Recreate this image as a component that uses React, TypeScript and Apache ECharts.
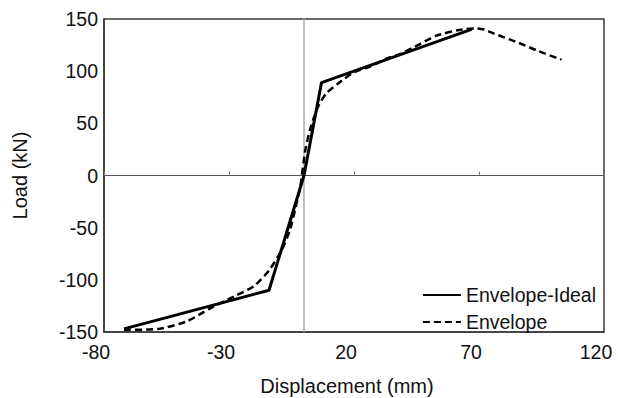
import React, { useEffect, useRef } from "react";
import * as echarts from "echarts";

const xTicks = [-80, -30, 20, 70, 120];
const yTicks = [-150, -100, -50, 0, 50, 100, 150];

const idealSeries: [number, number][] = [
  [-72, -147],
  [-14, -110],
  [0, 0],
  [7, 89],
  [67, 140],
];

const envelopeSeries: [number, number][] = [
  [-72, -148],
  [-58, -147],
  [-47, -140],
  [-38, -128],
  [-28, -116],
  [-20, -106],
  [-14, -91],
  [-9, -72],
  [-5.6, -52],
  [-3, -27],
  [-1.5, -11],
  [0.5, 24],
  [2.4, 44],
  [5.6, 66],
  [9, 79],
  [13.5, 88],
  [20, 99],
  [27, 105],
  [33, 112],
  [38, 116],
  [44, 123],
  [53, 134],
  [62, 139.5],
  [69, 141],
  [72, 140],
  [76, 136],
  [86, 127],
  [94, 119],
  [103, 111],
];

const FONT = "'Liberation Sans', Arial, sans-serif";
const FS = 19.5;
const NFS = 20;

export default function App() {
  const ref = useRef<HTMLDivElement>(null);
  useEffect(() => {
    if (!ref.current) return;
    const chart = echarts.init(ref.current, undefined, { renderer: "svg" });
    const xMin = xTicks[0];
    const xMax = xTicks[xTicks.length - 1];
    const yMin = yTicks[0];
    const yMax = yTicks[yTicks.length - 1];
    chart.setOption({
      animation: false,
      backgroundColor: "#fff",
      textStyle: { fontFamily: FONT },
      grid: {
        left: 104,
        right: 14,
        top: 19,
        bottom: 66,
        containLabel: false,
        outerBoundsMode: "none",
        show: true,
        borderColor: "#3a3a3a",
        borderWidth: 1.5,
      },
      legend: {
        orient: "vertical",
        right: 22,
        top: 285,
        padding: 0,
        itemWidth: 38,
        itemHeight: 17,
        itemGap: 7,
        itemStyle: { color: "rgba(0,0,0,0)", borderColor: "rgba(0,0,0,0)", borderWidth: 0 },
        textStyle: { fontSize: FS, color: "#111", fontFamily: FONT, lineHeight: 17 },
        data: ["Envelope-Ideal", "Envelope"],
      },
      xAxis: [
        {
          type: "value",
          position: "bottom",
          min: xMin,
          max: xMax,
          interval: 50,
          splitLine: { show: false },
          axisLine: { show: true, onZero: false, lineStyle: { color: "#3a3a3a", width: 1.5 } },
          axisTick: { show: false },
          axisLabel: {
            fontSize: FS,
            color: "#111",
            margin: 11,
            lineHeight: 17,
            fontFamily: FONT,
            padding: [0, 16, 0, 0],
          },
          name: "Displacement (mm)",
          nameLocation: "middle",
          nameGap: 44,
          nameTextStyle: { fontSize: NFS, color: "#111", fontFamily: FONT, padding: [0, 14, 0, 0] },
        },
        {
          type: "value",
          position: "top",
          min: xMin,
          max: xMax,
          interval: 50,
          splitLine: { show: false },
          axisLine: { show: true, onZero: true, lineStyle: { color: "#555", width: 1.2 } },
          axisTick: { show: true, inside: false, length: 4, lineStyle: { color: "#777" } },
          axisLabel: { show: false },
        },
      ],
      yAxis: {
        type: "value",
        min: yMin,
        max: yMax,
        interval: 50,
        splitLine: { show: false },
        axisLine: { show: true, onZero: false, lineStyle: { color: "#3a3a3a", width: 1.5 } },
        axisTick: { show: false },
        axisLabel: { fontSize: FS, color: "#111", margin: 6, lineHeight: 15, fontFamily: FONT },
        name: "Load (kN)",
        nameLocation: "middle",
        nameGap: 74,
        nameRotate: 90,
        nameTextStyle: { fontSize: NFS, color: "#111", fontFamily: FONT },
      },
      series: [
        {
          name: "Envelope-Ideal",
          type: "line",
          xAxisIndex: 0,
          data: idealSeries,
          showSymbol: false,
          symbol: "none",
          lineStyle: { color: "#000", width: 3 },
          itemStyle: { color: "rgba(0,0,0,0)" },
          z: 3,
          markLine: {
            silent: true,
            symbol: "none",
            label: { show: false },
            lineStyle: { color: "#aaa", width: 1.5, type: "solid" },
            data: [{ xAxis: 0 }],
            z: 1,
          },
        },
        {
          name: "Envelope",
          type: "line",
          xAxisIndex: 0,
          data: envelopeSeries,
          showSymbol: false,
          symbol: "none",
          smooth: 0.2,
          lineStyle: { color: "#000", width: 2.5, type: [7, 4] },
          itemStyle: { color: "rgba(0,0,0,0)" },
          z: 4,
        },
      ],
    });
    return () => chart.dispose();
  }, []);
  return (
    <div
      ref={ref}
      style={{ position: "fixed", left: 0, top: 0, width: 618, height: 398 }}
    />
  );
}
